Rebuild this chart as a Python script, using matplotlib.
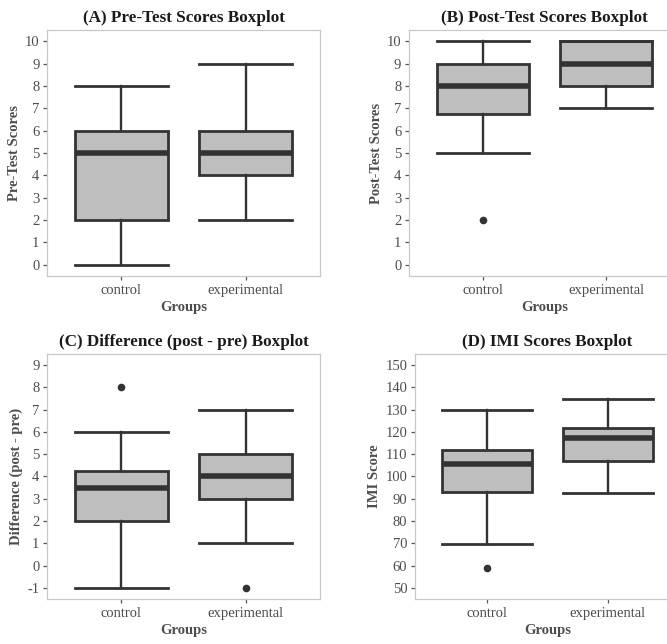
import matplotlib
matplotlib.use("Agg")
import matplotlib.pyplot as plt

groups = ["control", "experimental"]

# five-number summaries: (low whisker, q1, median, q3, high whisker)
pre_stats = [(0, 2, 5, 6, 8), (2, 4, 5, 6, 9)]
pre_fliers = [[], []]

post_stats = [(5, 6.75, 8, 9, 10), (7, 8, 9, 10, 10)]
post_fliers = [[2], []]

diff_stats = [(-1, 2, 3.5, 4.25, 6), (1, 3, 4, 5, 7)]
diff_fliers = [[8], [-1]]

imi_stats = [(69.5, 93.25, 105.75, 112, 130), (92.5, 107, 117.25, 122, 135)]
imi_fliers = [[59], []]

panels = [
    ("(A) Pre-Test Scores Boxplot", "Pre-Test Scores", pre_stats, pre_fliers,
     range(0, 11), (-0.5, 10.5), [0.0705, 0.5714, 0.4093, 0.382]),
    ("(B) Post-Test Scores Boxplot", "Post-Test Scores", post_stats, post_fliers,
     range(0, 11), (-0.5, 10.5), [0.6132, 0.5714, 0.4063, 0.382]),
    ("(C) Difference (post - pre) Boxplot", "Difference (post - pre)", diff_stats, diff_fliers,
     range(-1, 10), (-1.5, 9.5), [0.0705, 0.0699, 0.4093, 0.3804]),
    ("(D) IMI Scores Boxplot", "IMI Score", imi_stats, imi_fliers,
     range(50, 151, 10), (45, 155), [0.6222, 0.0699, 0.3973, 0.3804]),
]

plt.rcParams["font.family"] = ["Liberation Serif", "DejaVu Serif"]
plt.rcParams["axes.unicode_minus"] = False

LINE = "#333333"
FILL = "#BEBEBE"
TXT = "#4D4D4D"

fig = plt.figure(figsize=(6.67, 6.44), dpi=100)

for title, ylab, stats, fliers, ticks, ylim, rect in panels:
    ax = fig.add_axes(rect)
    bstats = []
    for (lo, q1, med, q3, hi), fl in zip(stats, fliers):
        bstats.append({"whislo": lo, "q1": q1, "med": med, "q3": q3, "whishi": hi, "fliers": fl})
    ax.bxp(bstats, positions=[1, 2], widths=0.75, capwidths=0.75, patch_artist=True,
           boxprops=dict(facecolor=FILL, edgecolor=LINE, linewidth=2.0),
           whiskerprops=dict(color=LINE, linewidth=1.7),
           capprops=dict(color=LINE, linewidth=2.0),
           medianprops=dict(color=LINE, linewidth=4.0, solid_capstyle="butt"),
           flierprops=dict(marker="o", markerfacecolor=LINE, markeredgecolor=LINE, markersize=4.5))
    ax.set_xlim(0.4, 2.6)
    ax.set_ylim(*ylim)
    ax.set_yticks(list(ticks))
    ax.set_xticks([1, 2])
    ax.set_xticklabels(groups)
    for s in ax.spines.values():
        s.set_color("#C8C8C8")
        s.set_linewidth(0.9)
    ax.tick_params(colors="#555555", labelcolor=TXT, labelsize=10.5, length=3, width=0.9, pad=2.5)
    ax.set_title(title, fontsize=12.3, fontweight="bold", color="#1A1A1A", pad=6)
    ax.set_ylabel(ylab, fontsize=10.5, fontweight="bold", color=TXT, labelpad=3)
    ax.set_xlabel("Groups", fontsize=10.5, fontweight="bold", color=TXT, labelpad=3)

fig.savefig("out.png", dpi=100)
